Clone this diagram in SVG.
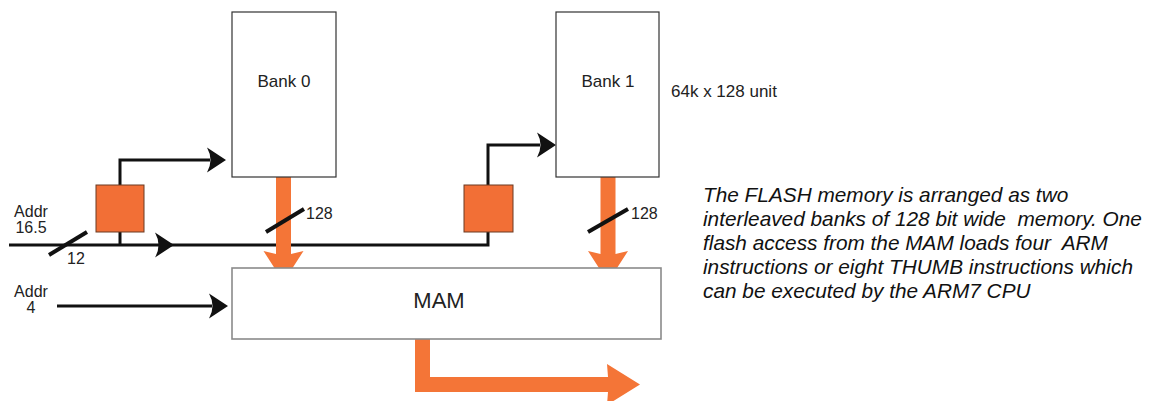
<svg xmlns="http://www.w3.org/2000/svg" width="1158" height="401" viewBox="0 0 1158 401">
<style>
.box{fill:#fff;stroke:#333;stroke-width:1.2}
.mam{fill:#fff;stroke:#8a8a8a;stroke-width:1.6}
.reg{fill:#F26F36;stroke:#6b3a22;stroke-width:1}
.wire{fill:none;stroke:#111;stroke-width:3}
.slash{stroke:#111;stroke-width:4;stroke-linecap:butt}
.bus{fill:#F47537}
.head{fill:#111}
.lbl{font-family:"Liberation Sans",Arial,sans-serif;font-size:16px;fill:#222}
.big{font-size:17px}
.para{font-family:"Liberation Sans",Arial,sans-serif;font-size:20.8px;font-style:italic;fill:#111;white-space:pre}
</style>
<defs>
<path id="ah" d="M0,0 L-19,-12.5 Q-12,0 -19,12.5 Z"/>
</defs>

<g id="connectors">
  <polyline class="wire" points="9,245 488,245 488,232"/>
  <use href="#ah" class="head" transform="translate(174,245)"/>
  <polyline class="wire" points="120,245 120,232"/>
  <polyline class="wire" points="120,185 120,160 210,160"/>
  <use href="#ah" class="head" transform="translate(226,160)"/>
  <polyline class="wire" points="488,185 488,145 540,145"/>
  <use href="#ah" class="head" transform="translate(556,145)"/>
  <line class="wire" x1="57" y1="306" x2="212" y2="306"/>
  <use href="#ah" class="head" transform="translate(228,306)"/>
  <path class="bus" d="M276,177 H291 V254 L303.5,251 L283.5,282 L263.5,251 L276,254 Z"/>
  <path class="bus" d="M600.5,177 H615.5 V254 L628,251 L608,282 L588,251 L600.5,254 Z"/>
  <path class="bus" d="M415,339 H430 V377 H608 L607,364 L640,384.5 L607,405 L608,392 H415 Z"/>
  <line class="slash" x1="49" y1="255" x2="87" y2="232"/>
  <line class="slash" x1="266" y1="232" x2="304" y2="209"/>
  <line class="slash" x1="588" y1="232" x2="628" y2="209"/>
  <text class="lbl" x="67" y="264">12</text>
  <text class="lbl" x="306" y="219">128</text>
  <text class="lbl" x="631" y="219">128</text>
</g>

<g id="bank0">
  <rect class="box" x="232" y="12" width="104" height="165"/>
  <text class="lbl big" x="284" y="87" text-anchor="middle">Bank 0</text>
</g>
<g id="bank1">
  <rect class="box" x="556" y="12" width="103" height="165"/>
  <text class="lbl big" x="608" y="87" text-anchor="middle">Bank 1</text>
</g>
<g id="reg0">
  <rect class="reg" x="96" y="185" width="48" height="47"/>
</g>
<g id="reg1">
  <rect class="reg" x="464" y="185" width="49" height="47"/>
</g>
<g id="mam">
  <rect class="mam" x="232" y="268" width="429" height="71"/>
  <text class="lbl" x="439" y="308" text-anchor="middle" style="font-size:22px">MAM</text>
</g>

<g id="labels">
  <text class="lbl" x="31" y="217" text-anchor="middle">Addr</text>
  <text class="lbl" x="31" y="233" text-anchor="middle">16.5</text>
  <text class="lbl" x="31" y="297" text-anchor="middle">Addr</text>
  <text class="lbl" x="31" y="313" text-anchor="middle">4</text>
  <text class="lbl big" x="671" y="97">64k x 128 unit</text>
  <text class="para" x="703" y="202" xml:space="preserve">The FLASH memory is arranged as two</text>
  <text class="para" x="703" y="226" xml:space="preserve">interleaved banks of 128 bit wide  memory. One</text>
  <text class="para" x="703" y="250" xml:space="preserve">flash access from the MAM loads four  ARM</text>
  <text class="para" x="703" y="274" xml:space="preserve">instructions or eight THUMB instructions which</text>
  <text class="para" x="703" y="298" xml:space="preserve">can be executed by the ARM7 CPU</text>
</g>
</svg>
